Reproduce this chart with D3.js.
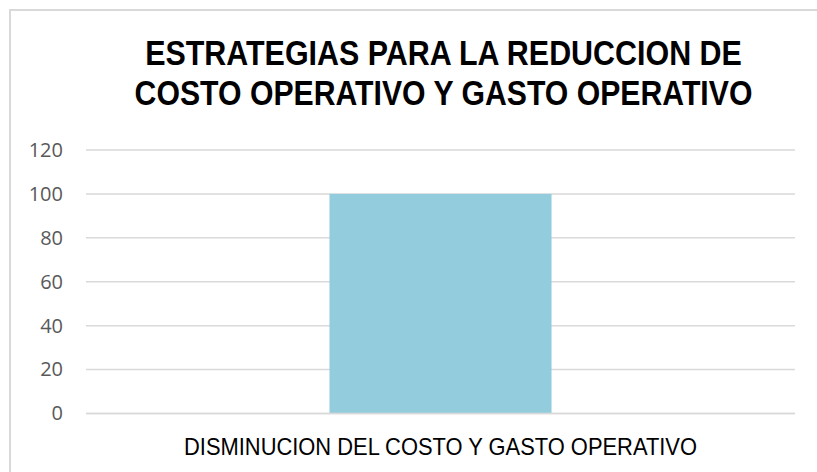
<!DOCTYPE html>
<html>
<head>
<meta charset="utf-8">
<script src="https://cdn.jsdelivr.net/npm/d3@7"></script>
<style>
  body { margin: 0; background: #fff; }
</style>
</head>
<body>
<svg id="chart"></svg>
<script>
// datos del gráfico
const titleLines = ["ESTRATEGIAS PARA LA REDUCCION DE", "COSTO OPERATIVO Y GASTO OPERATIVO"];
const titleWidths = [597, 618];
const categories = ["DISMINUCION DEL COSTO Y GASTO OPERATIVO"];
const values = [100];
const yTicks = [0, 20, 40, 60, 80, 100, 120];

const width = 817;
const height = 472;
const margin = { top: 150, right: 22, bottom: 58.5, left: 86 };

const svg = d3.select("#chart")
    .attr("width", width)
    .attr("height", height);

// marco (solo arriba e izquierda visibles)
svg.append("path")
    .attr("d", `M10,${height} L10,10 L${width},10`)
    .attr("fill", "none")
    .attr("stroke", "#d9d9d9")
    .attr("stroke-width", 2);

// comprime horizontalmente un texto para imitar una fuente estrecha
function narrow(sel, cx, target) {
    sel.each(function() {
        const w = this.getComputedTextLength();
        const k = Math.min(1, target / w);
        d3.select(this)
            .attr("x", 0)
            .attr("transform", `translate(${cx},0) scale(${k},1)`);
    });
}

// título
svg.append("g")
    .selectAll("text")
    .data(titleLines)
    .enter()
    .append("text")
    .attr("text-anchor", "middle")
    .attr("y", (d, i) => 65 + i * 40)
    .style("font-family", "'Liberation Sans', Arial, sans-serif")
    .style("font-weight", "bold")
    .style("font-size", "35px")
    .attr("fill", "#000")
    .text(d => d)
    .each(function(d, i) { narrow(d3.select(this), 443.5, titleWidths[i]); });

const x = d3.scaleBand()
    .domain(categories)
    .range([margin.left, width - margin.right])
    .padding(0.523);

const y = d3.scaleLinear()
    .domain([0, 120])
    .range([height - margin.bottom, margin.top]);

// líneas de cuadrícula
svg.append("g")
    .selectAll("line")
    .data(yTicks)
    .enter()
    .append("line")
    .attr("x1", margin.left)
    .attr("x2", width - margin.right)
    .attr("y1", d => y(d))
    .attr("y2", d => y(d))
    .attr("stroke", "#d9d9d9")
    .attr("stroke-width", 1.5);

// eje Y
const yAxis = svg.append("g")
    .attr("transform", `translate(${margin.left}, 0)`)
    .call(d3.axisLeft(y).tickValues(yTicks).tickSize(0).tickPadding(23));
yAxis.select(".domain").remove();
yAxis.selectAll("text")
    .style("font-family", "'Open Sans', sans-serif")
    .style("font-size", "20px")
    .attr("fill", "#595959");

// barras
svg.selectAll(".bar")
    .data(values)
    .enter()
    .append("rect")
    .attr("class", "bar")
    .attr("x", (d, i) => x(categories[i]))
    .attr("y", d => y(d))
    .attr("width", x.bandwidth())
    .attr("height", d => y(0) - y(d))
    .attr("fill", "#93cddd");

// línea base encima de la barra
svg.append("line")
    .attr("x1", margin.left)
    .attr("x2", width - margin.right)
    .attr("y1", y(0))
    .attr("y2", y(0))
    .attr("stroke", "#d9d9d9")
    .attr("stroke-width", 1.5);

// eje X
const xAxis = svg.append("g")
    .attr("transform", `translate(0, ${y(0)})`)
    .call(d3.axisBottom(x).tickSize(0).tickPadding(0));
xAxis.select(".domain").remove();
xAxis.selectAll(".tick")
    .attr("transform", "translate(0,0)");
xAxis.selectAll("text")
    .attr("dy", null)
    .attr("y", 41.5)
    .style("font-family", "'Liberation Sans', Arial, sans-serif")
    .style("font-size", "24px")
    .attr("fill", "#000")
    .each(function(d) { narrow(d3.select(this), x(d) + x.bandwidth() / 2, 513); });
</script>
</body>
</html>
